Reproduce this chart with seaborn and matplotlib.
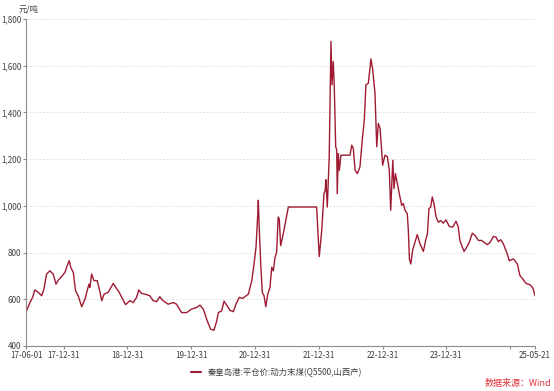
import matplotlib
matplotlib.use("Agg")
import matplotlib.pyplot as plt
import seaborn as sns
import pandas as pd
from matplotlib.ticker import FuncFormatter
from matplotlib.lines import Line2D

dates = [
    "2017-06-01", "2017-06-21", "2017-07-06", "2017-07-19", "2017-08-07", "2017-08-27",
    "2017-09-09", "2017-09-24", "2017-10-13", "2017-11-01", "2017-11-17", "2017-11-30",
    "2017-12-19", "2018-01-07", "2018-01-20", "2018-02-01", "2018-02-09", "2018-02-24",
    "2018-03-09", "2018-03-24", "2018-04-13", "2018-05-02", "2018-05-17", "2018-05-25",
    "2018-05-30", "2018-06-09", "2018-06-22", "2018-07-11", "2018-07-27", "2018-08-06",
    "2018-08-19", "2018-09-12", "2018-10-11", "2018-10-31", "2018-11-09", "2018-11-19",
    "2018-12-20", "2019-01-14", "2019-02-02", "2019-02-21", "2019-03-06", "2019-03-22",
    "2019-04-10", "2019-05-08", "2019-05-27", "2019-06-16", "2019-07-04", "2019-07-23",
    "2019-08-21", "2019-09-19", "2019-10-08", "2019-11-06", "2019-12-05", "2020-01-02",
    "2020-01-31", "2020-02-19", "2020-03-09", "2020-04-01", "2020-04-20", "2020-05-09",
    "2020-05-25", "2020-06-03", "2020-06-22", "2020-07-06", "2020-07-21", "2020-08-09",
    "2020-08-28", "2020-09-12", "2020-10-01", "2020-10-21", "2020-11-09", "2020-11-22",
    "2020-12-12", "2020-12-27", "2021-01-05", "2021-01-15", "2021-01-18", "2021-01-24",
    "2021-02-01", "2021-02-10", "2021-02-20", "2021-03-02", "2021-03-13", "2021-03-26",
    "2021-04-05", "2021-04-14", "2021-04-24", "2021-05-03", "2021-05-12", "2021-05-18",
    "2021-05-26", "2021-06-10", "2021-07-09", "2021-12-18", "2022-01-02", "2022-01-16",
    "2022-01-29", "2022-02-05", "2022-02-09", "2022-02-17", "2022-02-28", "2022-03-10",
    "2022-03-16", "2022-03-23", "2022-03-29", "2022-04-06", "2022-04-12", "2022-04-15",
    "2022-04-21", "2022-04-27", "2022-05-06", "2022-06-27", "2022-07-07", "2022-07-16",
    "2022-07-26", "2022-08-08", "2022-08-23", "2022-09-05", "2022-09-17", "2022-09-26",
    "2022-10-10", "2022-10-25", "2022-11-04", "2022-11-17", "2022-11-27", "2022-12-06",
    "2022-12-16", "2022-12-31", "2023-01-13", "2023-01-27", "2023-02-07", "2023-02-15",
    "2023-02-27", "2023-03-06", "2023-03-14", "2023-03-25", "2023-04-09", "2023-04-19",
    "2023-04-28", "2023-05-08", "2023-05-21", "2023-05-27", "2023-06-02", "2023-06-10",
    "2023-06-21", "2023-07-04", "2023-07-17", "2023-08-02", "2023-08-21", "2023-09-05",
    "2023-09-13", "2023-09-22", "2023-10-02", "2023-10-11", "2023-10-21", "2023-11-02",
    "2023-11-15", "2023-11-28", "2023-12-13", "2023-12-29", "2024-01-16", "2024-02-05",
    "2024-02-24", "2024-03-08", "2024-03-17", "2024-03-31", "2024-04-10", "2024-04-25",
    "2024-05-10", "2024-05-27", "2024-06-12", "2024-07-01", "2024-07-20", "2024-08-02",
    "2024-08-21", "2024-09-06", "2024-09-25", "2024-10-10", "2024-10-23", "2024-11-06",
    "2024-11-21", "2024-12-10", "2024-12-25", "2025-01-17", "2025-02-09", "2025-02-24",
    "2025-03-12", "2025-03-31", "2025-04-23", "2025-05-09", "2025-05-21",
]
prices = [
    550, 586, 608, 640, 630, 615,
    644, 708, 722, 708, 665, 682,
    697, 715, 744, 765, 737, 715,
    636, 615, 568, 601, 644, 665,
    651, 708, 680, 680, 630, 594,
    622, 630, 668, 644, 636, 622,
    577, 594, 586, 608, 640, 625,
    622, 615, 594, 590, 611, 594,
    579, 586, 579, 543, 543, 558,
    565, 575, 558, 507, 472, 467,
    507, 543, 550, 592, 575, 553,
    547, 579, 608, 604, 615, 622,
    680, 765, 823, 966, 1024, 894,
    751, 629, 615, 568, 622, 651,
    737, 722, 780, 801, 952, 945,
    830, 880, 995, 995, 783, 894,
    1052, 1067, 1112, 995, 1210, 1704,
    1518, 1618, 1511, 1253, 1240, 1052,
    1224, 1152, 1217, 1217, 1260, 1246,
    1152, 1138, 1167, 1281, 1370, 1518,
    1525, 1629, 1583, 1482, 1253, 1353,
    1332, 1174, 1217, 1210, 1152, 981,
    1195, 1074, 1138, 1095, 1038, 1002,
    1010, 981, 966, 894, 773, 751,
    812, 844, 877, 837, 805, 859,
    880, 988, 995, 1038, 1009, 952,
    930, 937, 926, 940, 912, 909,
    934, 909, 852, 823, 805, 823,
    844, 883, 873, 852, 852, 844,
    834, 844, 869, 866, 847, 855,
    837, 801, 765, 773, 751, 701,
    687, 668, 662, 648, 615,
]
series_name = "秦皇岛港:平仓价:动力末煤(Q5500,山西产)"
y_unit = "元/吨"
source_text = "数据来源：Wind"
tick_dates = ["2017-06-01", "2017-12-31", "2018-12-31", "2019-12-31", "2020-12-31",
              "2021-12-31", "2022-12-31", "2023-12-31", "2024-12-31", "2025-05-21"]
tick_labels = ["17-06-01", "17-12-31", "18-12-31", "19-12-31", "20-12-31",
               "21-12-31", "22-12-31", "23-12-31", "", "25-05-21"]
y_ticks = [400, 600, 800, 1000, 1200, 1400, 1600, 1800]

sns.set_theme(style="white")
plt.rcParams["font.family"] = ["Noto Sans CJK SC", "DejaVu Sans"]

df = pd.DataFrame({"date": pd.to_datetime(dates), "price": prices, "series": series_name})

fig = plt.figure(figsize=(5.54, 3.91), dpi=100)
ax = fig.add_axes([0.0478, 0.1151, 0.9179, 0.8363])
line_color = "#9E1B32"
sns.lineplot(data=df, x="date", y="price", hue="series", palette=[line_color],
             linewidth=1.0, ax=ax, legend=False)

ax.set_xlim(pd.Timestamp("2017-06-01"), pd.Timestamp("2025-05-21"))
ax.set_ylim(400, 1800)
ax.set_yticks(y_ticks)
ax.yaxis.set_major_formatter(FuncFormatter(lambda v, p: f"{int(v):,}"))
ax.set_xticks(pd.to_datetime(tick_dates))
ax.set_xticklabels(tick_labels)
ax.set_xlabel("")
ax.set_ylabel("")

ax.grid(axis="y", color="#D9D9D9", linestyle=(0, (2, 2)), linewidth=0.6)
ax.grid(axis="x", visible=False)
for s in ["top", "right"]:
    ax.spines[s].set_visible(False)
for s in ["left", "bottom"]:
    ax.spines[s].set_color("#8C8C8C")
    ax.spines[s].set_linewidth(0.8)
ax.tick_params(axis="both", which="major", length=2.5, width=0.8, color="#8C8C8C",
               labelsize=5.8, labelcolor="#404040", pad=1.0, direction="out",
               left=True, bottom=True)

fig.text(0.033, 0.977, y_unit, fontsize=6, color="#404040", ha="left", va="center")

handle = Line2D([], [], color=line_color, linewidth=1.5)
fig.legend([handle], [series_name], loc="center", bbox_to_anchor=(0.5, 0.048),
           frameon=False, fontsize=6, handlelength=1.2, handletextpad=0.8,
           labelcolor="#404040")
fig.text(0.995, 0.018, source_text, fontsize=6.5, color="#E0303A", ha="right", va="center")

fig.savefig("out.png", dpi=100)
